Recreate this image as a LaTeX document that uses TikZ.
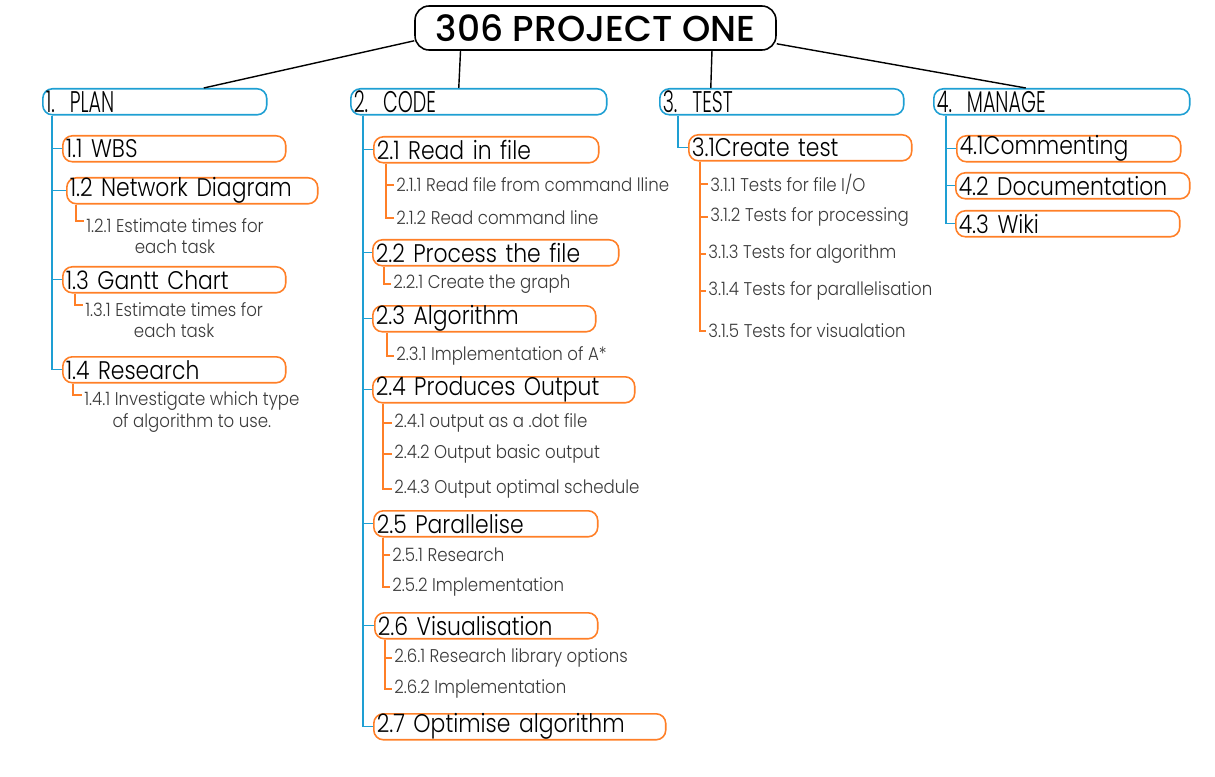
\documentclass[tikz,border=0pt]{standalone}
\usepackage{fontspec}
\setmainfont{Poppins}[UprightFont=* Light, BoldFont=* Medium]
\newfontfamily\topfont{Poppins Light}[FakeStretch=0.64]
\newfontfamily\midfont{Poppins Light}[FakeStretch=0.86]
\newfontfamily\lowfont{Poppins Light}[FakeStretch=0.9]
\definecolor{wbsblue}{HTML}{1E9FD3}
\definecolor{wbsorange}{HTML}{FF7F27}
\definecolor{wbstext}{HTML}{3A3A3A}
\begin{document}
\begin{tikzpicture}[
        x=0.02cm, y=-0.02cm,
        rootbox/.style = {draw, line width=0.9pt, rounded corners=8pt, inner sep=0pt, minimum width=7.22cm, minimum height=0.88cm, font=\fontsize{20.5}{24}\bfseries\selectfont},
        lvlone/.style = {draw=wbsblue, line width=0.9pt, rounded corners=5.5pt, anchor=north west, inner xsep=0.06cm, inner ysep=0pt, minimum height=0.52cm, align=left, font=\topfont\fontsize{17}{18}\selectfont},
        lvltwo/.style = {draw=wbsorange, line width=0.9pt, rounded corners=5.5pt, anchor=north west, inner xsep=0.06cm, inner ysep=0pt, minimum height=0.52cm, align=left, font=\midfont\fontsize{14.5}{16}\selectfont},
        lvlthree/.style = {anchor=west, inner xsep=0.04cm, inner ysep=1pt, text=wbstext, font=\lowfont\fontsize{10.5}{12}\selectfont},
        lvlnote/.style = {lvlthree, anchor=north west, align=center},
        rootlink/.style = {line width=0.8pt},
        bluelink/.style = {draw=wbsblue, line width=0.8pt},
        orangelink/.style = {draw=wbsorange, line width=0.8pt},
    ]
    \useasboundingbox (0,0) rectangle (1215,777);

    % root
    \node[rootbox] (root) at (595.5,28) {306 PROJECT ONE};

    % first level
    \node[lvlone, text width=4.36cm] (plan)   at (42,88)  {1. PLAN};
    \node[lvlone, text width=5.00cm] (code)   at (350,88) {2. CODE};
    \node[lvlone, text width=4.76cm] (test)   at (659,88) {3. TEST};
    \node[lvlone, text width=5.00cm] (manage) at (933,88) {4. MANAGE};

    \draw[rootlink] ([yshift=0.2cm]root.south west) -- ([xshift=0.98cm]plan.north);
    \draw[rootlink] ([xshift=-2.7cm]root.south) -- ([xshift=-0.4cm]code.north);
    \draw[rootlink] ([xshift=2.33cm]root.south) -- ([xshift=-1.42cm]test.north);
    \draw[rootlink] ([yshift=0.14cm]root.south east) -- ([xshift=-0.72cm]manage.north);

    % 1. plan
    \node[lvltwo, text width=4.34cm] (p1) at (62,135) {1.1 WBS};
    \node[lvltwo, text width=4.90cm] (p2) at (66,177) {1.2 Network Diagram};
    \node[lvltwo, text width=4.34cm] (p3) at (62,266) {1.3 Gantt Chart};
    \node[lvltwo, text width=4.34cm] (p4) at (62,356) {1.4 Research};
    \node[lvlnote] (p21) at (84,216) {1.2.1 Estimate times for\\each task};
    \node[lvlnote] (p31) at (83,300) {1.3.1 Estimate times for\\each task};
    \node[lvlnote] (p41) at (82,390) {1.4.1 Investigate which type\\of algorithm to use.};

    \foreach \c in {p1,p2,p3,p4}
        \draw[bluelink] ([xshift=0.2cm]plan.south west) |- (\c.west);
    \draw[orangelink] ([xshift=0.2cm]p2.south west) |- ([yshift=-0.1cm]p21.north west);
    \draw[orangelink] ([xshift=0.26cm]p3.south west) |- ([yshift=-0.1cm]p31.north west);
    \draw[orangelink] ([xshift=0.22cm]p4.south west) |- ([yshift=-0.1cm]p41.north west);

    % 2. code
    \node[lvltwo, text width=4.38cm] (c1) at (373,136) {2.1 Read in file};
    \node[lvltwo, text width=4.80cm] (c2) at (372,239) {2.2 Process the file};
    \node[lvltwo, text width=4.34cm] (c3) at (372,305) {2.3 Algorithm};
    \node[lvltwo, text width=5.12cm] (c4) at (372,376) {2.4 Produces Output};
    \node[lvltwo, text width=4.36cm] (c5) at (373,510) {2.5 Parallelise};
    \node[lvltwo, text width=4.34cm] (c6) at (374,612) {2.6 Visualisation};
    \node[lvltwo, text width=5.72cm] (c7) at (373,713) {2.7 Optimise algorithm};

    \node[lvlthree] (c11) at (394,185) {2.1.1 Read file from command lline};
    \node[lvlthree] (c12) at (394,218) {2.1.2 Read command line};
    \node[lvlthree] (c21) at (391,284) {2.2.1 Create the graph};
    \node[lvlthree] (c31) at (394,356) {2.3.1 Implementation of A*};
    \node[lvlthree] (c41) at (392,423) {2.4.1 output as a .dot file};
    \node[lvlthree] (c42) at (392,454) {2.4.2 Output basic output};
    \node[lvlthree] (c43) at (392,489) {2.4.3 Output optimal schedule};
    \node[lvlthree] (c51) at (390,555) {2.5.1 Research};
    \node[lvlthree] (c52) at (390,587) {2.5.2 Implementation};
    \node[lvlthree] (c61) at (392,658) {2.6.1 Research library options};
    \node[lvlthree] (c62) at (392,689) {2.6.2 Implementation};

    \foreach \c in {c1,c2,c3,c4,c5,c6,c7}
        \draw[bluelink] ([xshift=0.26cm]code.south west) |- (\c.west);
    \foreach \c in {c11,c12}
        \draw[orangelink] ([xshift=0.26cm]c1.south west) |- (\c.west);
    \draw[orangelink] ([xshift=0.24cm]c2.south west) |- (c21.west);
    \draw[orangelink] ([xshift=0.30cm]c3.south west) |- (c31.west);
    \foreach \c in {c41,c42,c43}
        \draw[orangelink] ([xshift=0.22cm]c4.south west) |- (\c.west);
    \foreach \c in {c51,c52}
        \draw[orangelink] ([xshift=0.2cm]c5.south west) |- (\c.west);
    \foreach \c in {c61,c62}
        \draw[orangelink] ([xshift=0.22cm]c6.south west) |- (\c.west);

    % 3. test
    \node[lvltwo, text width=4.34cm] (t1) at (688,134) {3.1Create test};
    \node[lvlthree] (t11) at (708,184) {3.1.1 Tests for file I/O};
    \node[lvlthree] (t12) at (708,217) {3.1.2 Tests for processing};
    \node[lvlthree] (t13) at (706,254) {3.1.3 Tests for algorithm};
    \node[lvlthree] (t14) at (706,291) {3.1.4 Tests for parallelisation};
    \node[lvlthree] (t15) at (706,331) {3.1.5 Tests for visualation};

    \draw[bluelink] ([xshift=0.38cm]test.south west) |- (t1.west);
    \foreach \c in {t11,t12,t13,t14,t15}
        \draw[orangelink] ([xshift=0.24cm]t1.south west) |- (\c.west);

    % 4. manage
    \node[lvltwo, text width=4.36cm] (m1) at (956,135) {4.1Commenting};
    \node[lvltwo, text width=4.56cm] (m2) at (955,172) {4.2 Documentation};
    \node[lvltwo, text width=4.36cm] (m3) at (955,210) {4.3 Wiki};

    \foreach \c in {m1,m2,m3}
        \draw[bluelink] ([xshift=0.26cm]manage.south west) |- (\c.west);
\end{tikzpicture}
\end{document}
